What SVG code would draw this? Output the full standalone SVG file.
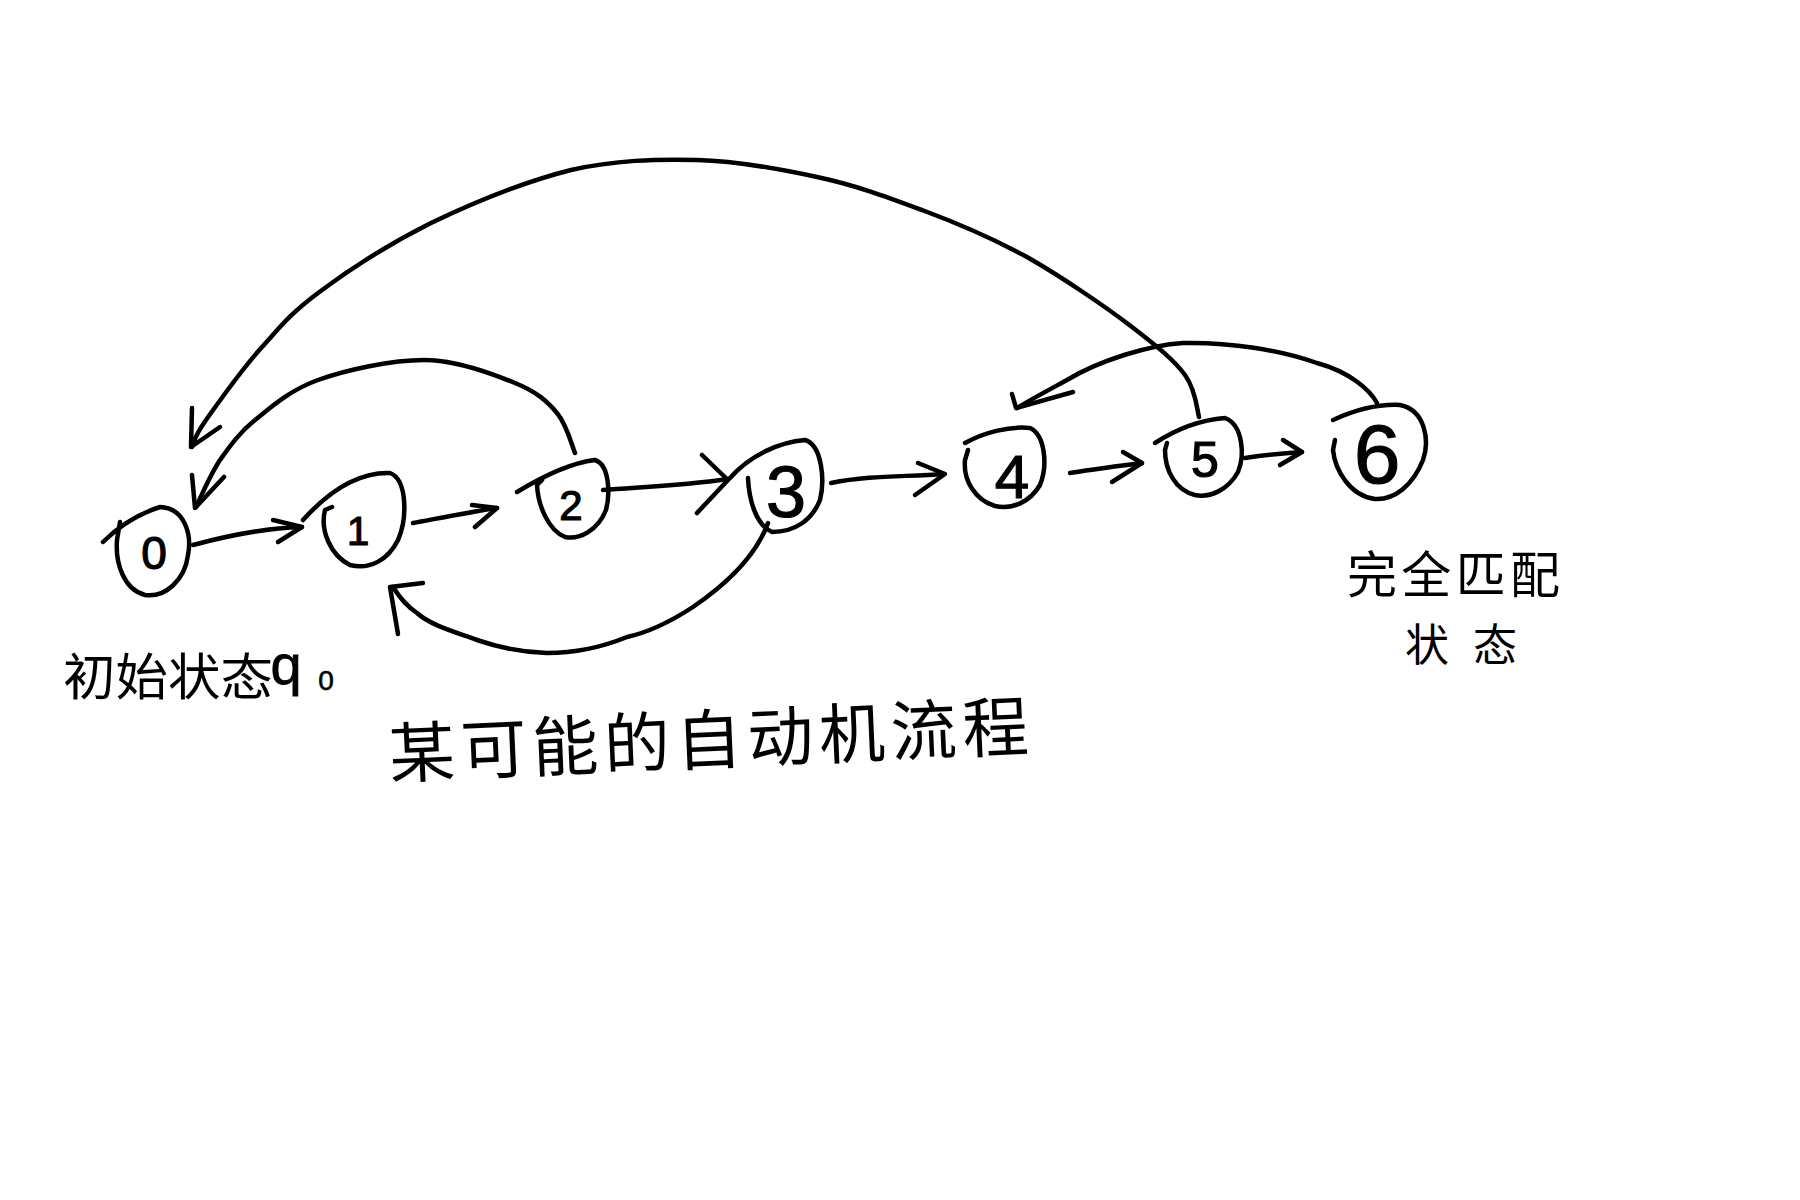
<svg xmlns="http://www.w3.org/2000/svg" width="1800" height="1200" viewBox="0 0 1800 1200">
<style>
.s{fill:none;stroke:#000;stroke-width:4.5;stroke-linecap:round;stroke-linejoin:round}
.d{font-family:"Liberation Sans",Arial,sans-serif;fill:#000;stroke:#000;stroke-width:1.2;text-anchor:middle}
.c{font-family:"Noto Sans CJK SC","Noto Sans",sans-serif;fill:#000}
</style>
<rect width="1800" height="1200" fill="#fff"/>
<g id="connectors">
  <path class="s" d="M193,545 C230,535 265,528 302,527"/>
  <path class="s" d="M273,520 L302,527 L278,542"/>
  <path class="s" d="M413,523 C440,518 470,512 497,508"/>
  <path class="s" d="M472,505 L497,508 L475,527"/>
  <path class="s" d="M603,490 C640,487 680,486 728,479"/>
  <path class="s" d="M702,455 L728,480 L697,513"/>
  <path class="s" d="M831,483 C870,475 905,477 944,474"/>
  <path class="s" d="M918,463 L945,474 L915,495"/>
  <path class="s" d="M1070,473 C1095,469 1120,466 1142,463"/>
  <path class="s" d="M1123,452 L1142,463 L1112,482"/>
  <path class="s" d="M1245,458 C1265,455 1285,453 1302,452"/>
  <path class="s" d="M1283,440 L1302,452 L1280,465"/>
  <path class="s" d="M1199,417 C1197,410 1196,390 1185,375 C1174,360 1158,347 1132,327 C1106,307 1062,277 1027,257 C992,238 957,223 922,210 C887,197 855,185 817,177 C780,169 738,161 697,160 C656,159 615,160 571,170 C527,181 473,203 431,223 C389,244 346,272 318,293 C290,314 281,326 262,347 C243,368 218,403 206,420 C194,437 194,442 192,447"/>
  <path class="s" d="M192,408 L191,447 L220,427"/>
  <path class="s" d="M575,453 C572,446 567,425 557,413 C547,401 537,392 515,383 C493,374 457,360 424,360 C391,360 346,370 318,380 C290,390 271,407 255,420 C239,433 230,446 220,460 C210,475 200,499 196,507"/>
  <path class="s" d="M192,475 L195,508 L224,477"/>
  <path class="s" d="M1377,403 C1370,390 1350,372 1317,363 C1280,350 1230,342 1183,343 C1150,345 1100,360 1067,380 C1045,392 1030,400 1017,408"/>
  <path class="s" d="M1012,394 L1016,408 L1073,392"/>
  <path class="s" d="M768,523 C760,545 740,575 693,607 C670,622 650,632 627,637 C600,648 575,653 547,653 C520,652 500,648 477,640 C455,632 430,625 417,613 C405,605 398,595 393,587"/>
  <path class="s" d="M423,583 L390,587 L398,634"/>
</g>
<g id="node0">
  <path class="s" d="M103,542 C115,530 135,515 160,507 C185,508 192,535 188,555 C185,580 165,598 145,595 C125,590 115,565 117,540 L120,522"/>
  <text class="d" x="154" y="569" font-size="46">0</text>
</g>
<g id="node1">
  <path class="s" d="M303,520 C330,490 360,472 390,473 C408,480 407,520 398,540 C388,560 370,570 350,565 C330,555 320,530 325,510 L332,507"/>
  <text class="d" x="358" y="545" font-size="40">1</text>
</g>
<g id="node2">
  <path class="s" d="M517,492 C540,478 570,463 595,460 C610,465 610,495 606,510 C598,530 580,540 565,537 C548,530 538,505 537,485 L542,480"/>
  <text class="d" x="571" y="520" font-size="42">2</text>
</g>
<g id="node3">
  <path class="s" d="M730,478 C750,455 780,442 805,440 C822,445 825,480 820,500 C812,520 795,532 772,532 C756,525 749,500 748,478"/>
  <text class="d" x="786" y="517" font-size="72">3</text>
</g>
<g id="node4">
  <path class="s" d="M965,443 C985,432 1010,426 1030,428 C1045,435 1048,465 1040,485 C1030,502 1012,510 995,506 C975,500 963,480 965,460 L968,450"/>
  <text class="d" x="1012" y="498" font-size="62">4</text>
</g>
<g id="node5">
  <path class="s" d="M1155,443 C1175,430 1200,420 1225,418 C1243,425 1245,455 1238,472 C1228,490 1210,498 1195,495 C1175,490 1165,470 1165,450 L1167,443"/>
  <text class="d" x="1205" y="477" font-size="50">5</text>
</g>
<g id="node6">
  <path class="s" d="M1333,420 C1355,410 1380,404 1400,405 C1425,410 1430,440 1423,460 C1413,485 1395,500 1375,499 C1350,496 1335,470 1333,450 L1335,440"/>
  <text class="d" x="1377" y="483" font-size="84">6</text>
</g>
<g id="labels">
  <text class="c" x="63" y="695" font-size="50" textLength="210" lengthAdjust="spacingAndGlyphs">初始状态</text>
  <text class="d" x="286" y="684" font-size="56" style="stroke-width:0.8">q</text>
  <text class="d" x="326" y="690" font-size="28" style="stroke-width:0.6">0</text>
  <text class="c" x="390" y="778" font-size="66" textLength="640" lengthAdjust="spacing" transform="rotate(-2.5 390 778)">某可能的自动机流程</text>
  <text class="c" x="1347" y="593" font-size="50" textLength="213" lengthAdjust="spacing">完全匹配</text>
  <text class="c" x="1405" y="661" font-size="44" textLength="112" lengthAdjust="spacing">状态</text>
</g>
</svg>
